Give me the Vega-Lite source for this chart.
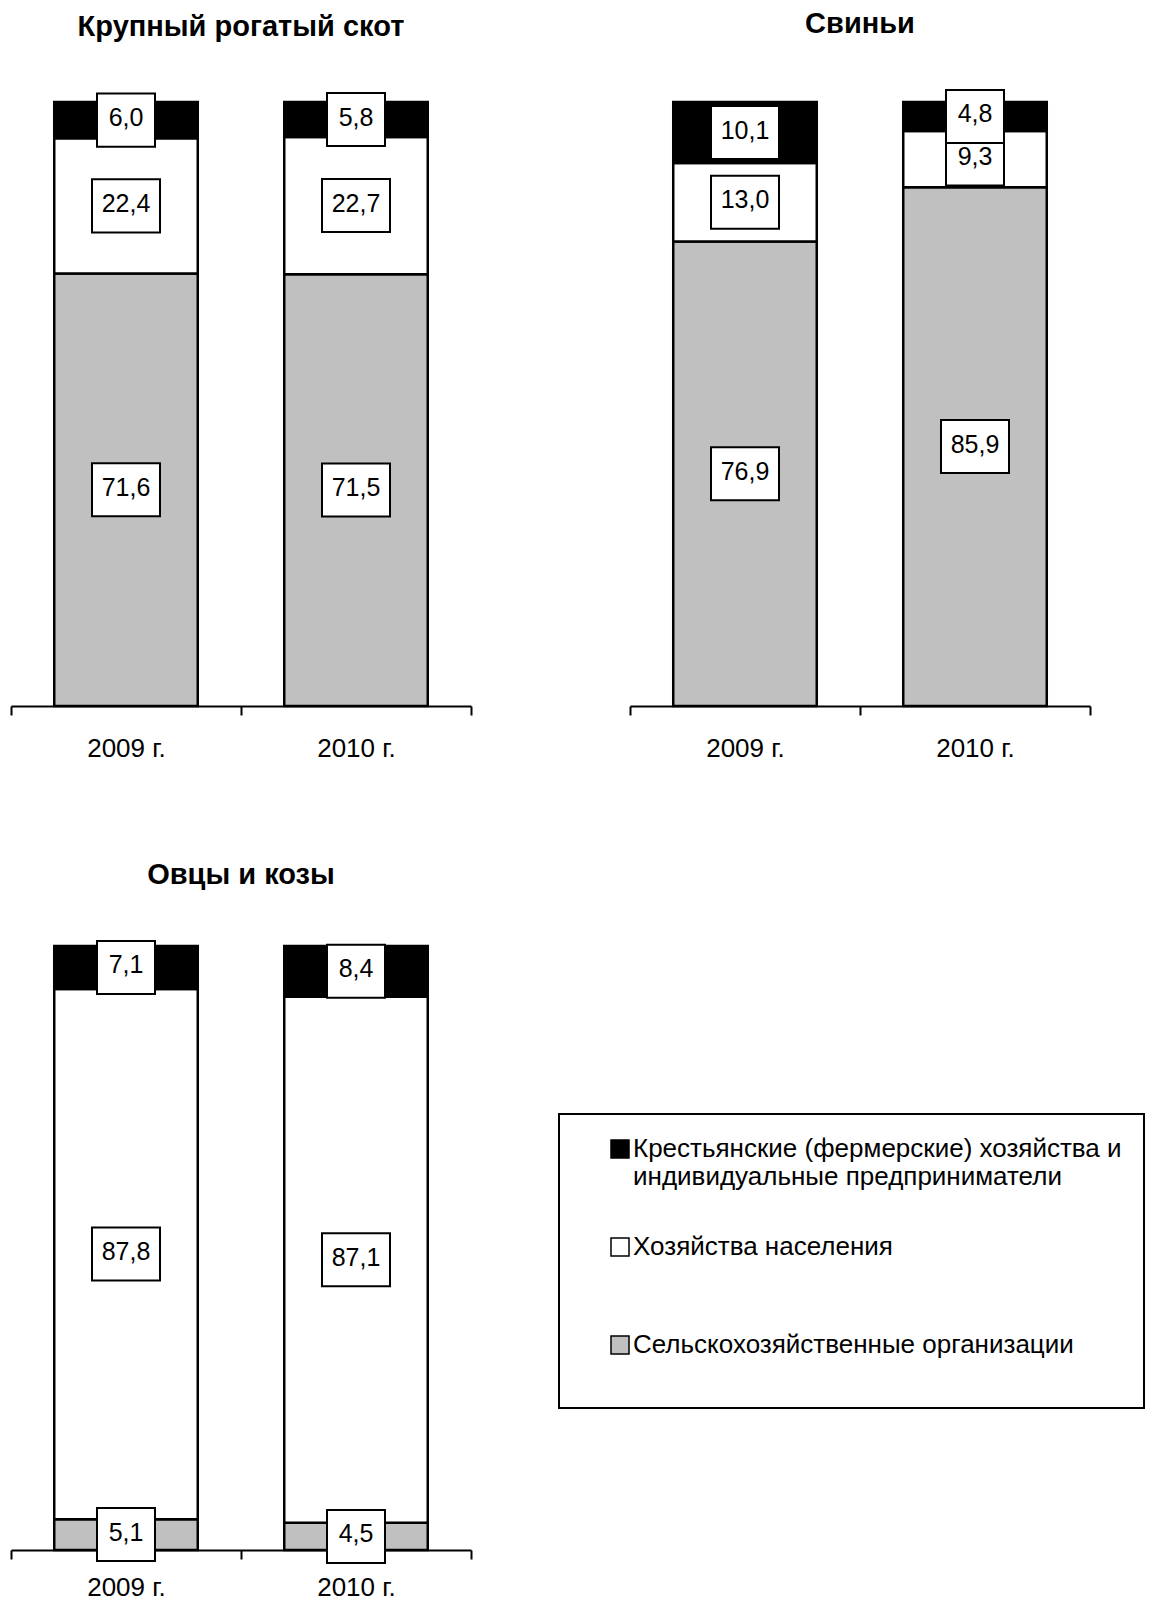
{
  "$schema": "https://vega.github.io/schema/vega-lite/v6.json",
  "padding": {"left": 10, "top": 9, "right": 0, "bottom": 0},
  "background": "white",
  "datasets": {
    "d": [
      {"p": "cattle", "year": "2009 г.", "cat": "Сельскохозяйственные организации", "k": 1, "v": 71.6},
      {"p": "cattle", "year": "2009 г.", "cat": "Хозяйства населения", "k": 2, "v": 22.4},
      {"p": "cattle", "year": "2009 г.", "cat": "Крестьянские (фермерские) хозяйства и индивидуальные предприниматели", "k": 3, "v": 6.0},
      {"p": "cattle", "year": "2010 г.", "cat": "Сельскохозяйственные организации", "k": 1, "v": 71.5},
      {"p": "cattle", "year": "2010 г.", "cat": "Хозяйства населения", "k": 2, "v": 22.7},
      {"p": "cattle", "year": "2010 г.", "cat": "Крестьянские (фермерские) хозяйства и индивидуальные предприниматели", "k": 3, "v": 5.8},
      {"p": "pigs", "year": "2009 г.", "cat": "Сельскохозяйственные организации", "k": 1, "v": 76.9},
      {"p": "pigs", "year": "2009 г.", "cat": "Хозяйства населения", "k": 2, "v": 13.0},
      {"p": "pigs", "year": "2009 г.", "cat": "Крестьянские (фермерские) хозяйства и индивидуальные предприниматели", "k": 3, "v": 10.1},
      {"p": "pigs", "year": "2010 г.", "cat": "Сельскохозяйственные организации", "k": 1, "v": 85.9},
      {"p": "pigs", "year": "2010 г.", "cat": "Хозяйства населения", "k": 2, "v": 9.3},
      {"p": "pigs", "year": "2010 г.", "cat": "Крестьянские (фермерские) хозяйства и индивидуальные предприниматели", "k": 3, "v": 4.8},
      {"p": "sheep", "year": "2009 г.", "cat": "Сельскохозяйственные организации", "k": 1, "v": 5.1},
      {"p": "sheep", "year": "2009 г.", "cat": "Хозяйства населения", "k": 2, "v": 87.8},
      {"p": "sheep", "year": "2009 г.", "cat": "Крестьянские (фермерские) хозяйства и индивидуальные предприниматели", "k": 3, "v": 7.1},
      {"p": "sheep", "year": "2010 г.", "cat": "Сельскохозяйственные организации", "k": 1, "v": 4.5},
      {"p": "sheep", "year": "2010 г.", "cat": "Хозяйства населения", "k": 2, "v": 87.1},
      {"p": "sheep", "year": "2010 г.", "cat": "Крестьянские (фермерские) хозяйства и индивидуальные предприниматели", "k": 3, "v": 8.4}
    ]
  },
  "data": {"name": "d"},
  "columns": 2,
  "spacing": {"row": 99, "column": 157},
  "resolve": {"scale": {"color": "shared"}, "legend": {"color": "shared"}},
  "concat": [
    {
      "title": {"text": "Крупный рогатый скот"},
      "width": 460, "height": 604,
      "transform": [{"filter": "datum.p == 'cattle'"}],
      "encoding": {
        "x": {"field": "year", "type": "nominal", "sort": null, "scale": {"paddingInner": 0, "paddingOuter": 0}, "axis": {"title": null}}
      },
      "layer": [
        {
          "mark": {"type": "bar", "stroke": "black", "strokeWidth": 2.5, "width": {"band": 0.624}},
          "encoding": {
            "y": {"field": "v", "type": "quantitative", "stack": "zero", "scale": {"domain": [0, 100], "nice": false}, "axis": null},
            "color": {"field": "cat", "type": "nominal", "title": " ",
              "scale": {"domain": ["Крестьянские (фермерские) хозяйства и индивидуальные предприниматели", "Хозяйства населения", "Сельскохозяйственные организации"], "range": ["#000000", "#ffffff", "#c0c0c0"]},
              "legend": {"orient": "none", "legendX": 548, "legendY": 1012,
                "labelExpr": "datum.label == 'Хозяйства населения' || datum.label == 'Сельскохозяйственные организации' ? [datum.label, ' '] : ['Крестьянские (фермерские) хозяйства и', 'индивидуальные предприниматели']"}},
            "order": {"field": "k", "type": "quantitative"}
          }
        },
        {
          "mark": {"type": "point", "filled": true, "fill": "white", "stroke": "black", "strokeWidth": 2, "opacity": 1},
          "encoding": {
            "y": {"field": "v", "type": "quantitative", "stack": "zero", "bandPosition": 0.5},
            "detail": {"field": "cat"},
            "order": {"field": "k", "type": "quantitative"},
            "shape": {"condition": {"test": "datum.v >= 10", "value": "M-1,-0.78L1,-0.78L1,0.78L-1,0.78Z"}, "value": "M-1,-0.914L1,-0.914L1,0.914L-1,0.914Z"},
            "size": {"condition": {"test": "datum.v >= 10", "value": 4624}, "value": 3364}
          }
        },
        {
          "mark": {"type": "text", "fontSize": 25, "font": "Liberation Sans", "color": "black", "baseline": "middle", "dy": -2},
          "encoding": {
            "y": {"field": "v", "type": "quantitative", "stack": "zero", "bandPosition": 0.5},
            "detail": {"field": "cat"},
            "order": {"field": "k", "type": "quantitative"},
            "text": {"field": "v", "type": "quantitative", "format": ".1f"}
          }
        }
      ]
    },
    {
      "title": {"text": "Свиньи"},
      "width": 460, "height": 604,
      "transform": [{"filter": "datum.p == 'pigs'"}],
      "encoding": {
        "x": {"field": "year", "type": "nominal", "sort": null, "scale": {"paddingInner": 0, "paddingOuter": 0}, "axis": {"title": null}}
      },
      "layer": [
        {
          "mark": {"type": "bar", "stroke": "black", "strokeWidth": 2.5, "width": {"band": 0.624}},
          "encoding": {
            "y": {"field": "v", "type": "quantitative", "stack": "zero", "scale": {"domain": [0, 100], "nice": false}, "axis": null},
            "color": {"field": "cat", "type": "nominal", "title": " ",
              "scale": {"domain": ["Крестьянские (фермерские) хозяйства и индивидуальные предприниматели", "Хозяйства населения", "Сельскохозяйственные организации"], "range": ["#000000", "#ffffff", "#c0c0c0"]},
              "legend": {"orient": "none", "legendX": 548, "legendY": 1012,
                "labelExpr": "datum.label == 'Хозяйства населения' || datum.label == 'Сельскохозяйственные организации' ? [datum.label, ' '] : ['Крестьянские (фермерские) хозяйства и', 'индивидуальные предприниматели']"}},
            "order": {"field": "k", "type": "quantitative"}
          }
        },
        {
          "mark": {"type": "point", "filled": true, "fill": "white", "stroke": "black", "strokeWidth": 2, "opacity": 1},
          "encoding": {
            "y": {"field": "v", "type": "quantitative", "stack": "zero", "bandPosition": 0.5},
            "detail": {"field": "cat"},
            "order": {"field": "k", "type": "quantitative"},
            "shape": {"condition": {"test": "datum.v >= 10", "value": "M-1,-0.78L1,-0.78L1,0.78L-1,0.78Z"}, "value": "M-1,-0.914L1,-0.914L1,0.914L-1,0.914Z"},
            "size": {"condition": {"test": "datum.v >= 10", "value": 4624}, "value": 3364}
          }
        },
        {
          "mark": {"type": "text", "fontSize": 25, "font": "Liberation Sans", "color": "black", "baseline": "middle", "dy": -2},
          "encoding": {
            "y": {"field": "v", "type": "quantitative", "stack": "zero", "bandPosition": 0.5},
            "detail": {"field": "cat"},
            "order": {"field": "k", "type": "quantitative"},
            "text": {"field": "v", "type": "quantitative", "format": ".1f"}
          }
        }
      ]
    },
    {
      "title": {"text": "Овцы и козы"},
      "width": 460, "height": 604,
      "transform": [{"filter": "datum.p == 'sheep'"}],
      "encoding": {
        "x": {"field": "year", "type": "nominal", "sort": null, "scale": {"paddingInner": 0, "paddingOuter": 0}, "axis": {"title": null, "labelPadding": 15}}
      },
      "layer": [
        {
          "mark": {"type": "bar", "stroke": "black", "strokeWidth": 2.5, "width": {"band": 0.624}},
          "encoding": {
            "y": {"field": "v", "type": "quantitative", "stack": "zero", "scale": {"domain": [0, 100], "nice": false}, "axis": null},
            "color": {"field": "cat", "type": "nominal", "title": " ",
              "scale": {"domain": ["Крестьянские (фермерские) хозяйства и индивидуальные предприниматели", "Хозяйства населения", "Сельскохозяйственные организации"], "range": ["#000000", "#ffffff", "#c0c0c0"]},
              "legend": {"orient": "none", "legendX": 548, "legendY": 1012,
                "labelExpr": "datum.label == 'Хозяйства населения' || datum.label == 'Сельскохозяйственные организации' ? [datum.label, ' '] : ['Крестьянские (фермерские) хозяйства и', 'индивидуальные предприниматели']"}},
            "order": {"field": "k", "type": "quantitative"}
          }
        },
        {
          "mark": {"type": "point", "filled": true, "fill": "white", "stroke": "black", "strokeWidth": 2, "opacity": 1},
          "encoding": {
            "y": {"field": "v", "type": "quantitative", "stack": "zero", "bandPosition": 0.5},
            "detail": {"field": "cat"},
            "order": {"field": "k", "type": "quantitative"},
            "shape": {"condition": {"test": "datum.v >= 10", "value": "M-1,-0.78L1,-0.78L1,0.78L-1,0.78Z"}, "value": "M-1,-0.914L1,-0.914L1,0.914L-1,0.914Z"},
            "size": {"condition": {"test": "datum.v >= 10", "value": 4624}, "value": 3364}
          }
        },
        {
          "mark": {"type": "text", "fontSize": 25, "font": "Liberation Sans", "color": "black", "baseline": "middle", "dy": -2},
          "encoding": {
            "y": {"field": "v", "type": "quantitative", "stack": "zero", "bandPosition": 0.5},
            "detail": {"field": "cat"},
            "order": {"field": "k", "type": "quantitative"},
            "text": {"field": "v", "type": "quantitative", "format": ".1f"}
          }
        }
      ]
    }
  ],
  "config": {
    "view": {"stroke": null},
    "font": "Liberation Sans",
    "locale": {"number": {"decimal": ",", "thousands": " ", "grouping": [3], "currency": ["", ""]}},
    "title": {"fontSize": 29, "fontWeight": "bold", "font": "Liberation Sans", "color": "black", "offset": 47, "baseline": "alphabetic", "anchor": "middle"},
    "axisX": {"domainColor": "black", "domainWidth": 2, "tickColor": "black", "tickWidth": 2, "tickSize": 9, "tickBand": "extent", "labelFontSize": 26, "labelFont": "Liberation Sans", "labelColor": "black", "labelPadding": 20, "labelAngle": 0, "grid": false},
    "legend": {"padding": 22, "fillColor": "white", "strokeColor": "black", "strokeWidth": 2, "labelFontSize": 26, "labelFont": "Liberation Sans", "labelColor": "black", "labelLimit": 900, "labelOffset": 0, "symbolType": "square", "symbolSize": 324, "symbolStrokeColor": "black", "symbolStrokeWidth": 1.5, "rowPadding": 44, "titleOrient": "left", "titleFontSize": 1, "titlePadding": 26, "labelBaseline": "middle"}
  }
}
